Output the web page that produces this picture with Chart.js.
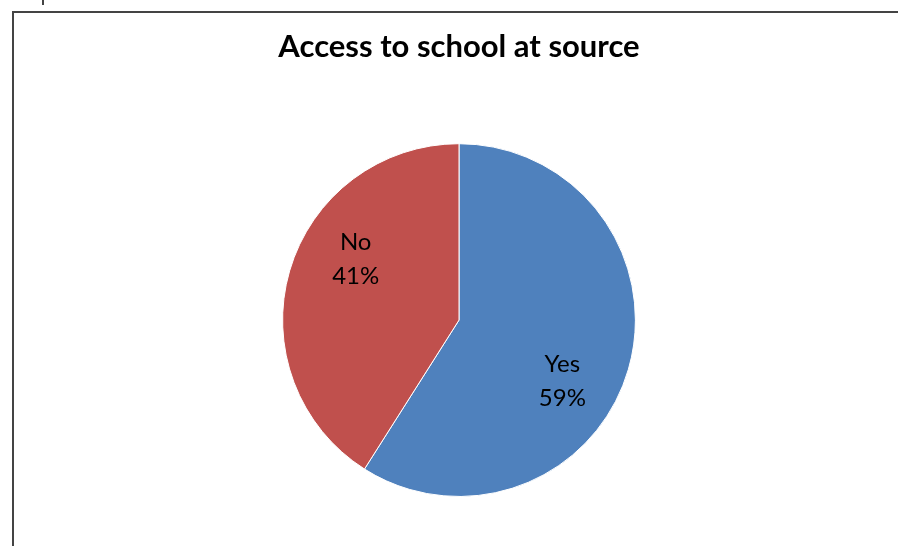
<!DOCTYPE html>
<html>
<head>
<meta charset="utf-8">
<script src="https://cdn.jsdelivr.net/npm/chart.js@4/dist/chart.umd.min.js"></script>
<style>
  html, body { margin: 0; padding: 0; background: #fff; }
  #wrap { position: relative; width: 898px; height: 546px; overflow: hidden; }
  #frame { position: absolute; left: 12px; top: 11px; width: 920px; height: 560px; border: 2px solid #444; box-sizing: border-box; }
  #tick { position: absolute; left: 42px; top: 0; width: 2px; height: 5px; background: #444; }
  #chart_canvas { position: absolute; left: 0; top: 0; }
</style>
</head>
<body>
<div id="wrap">
  <div id="frame"></div>
  <div id="tick"></div>
  <canvas id="chart_canvas" width="898" height="546"></canvas>
</div>
<script>
const pie_labels = ["Yes", "No"];
const pie_values = [59, 41];
const pie_colors = ["#4F81BD", "#C0504D"];

const ctx = document.getElementById("chart_canvas");

// labels inside slices, "Name" over "NN%"
const sliceLabels = {
  id: "sliceLabels",
  afterDatasetsDraw(chart) {
    const c = chart.ctx;
    const meta = chart.getDatasetMeta(0);
    const total = pie_values.reduce((a, b) => a + b, 0);
    c.save();
    c.font = "24px Lato";
    c.fillStyle = "#000";
    c.textAlign = "center";
    c.textBaseline = "middle";
    meta.data.forEach((arc, i) => {
      const mid = (arc.startAngle + arc.endAngle) / 2 + 0.25;
      const r = arc.outerRadius * 0.68;
      const x = arc.x + Math.cos(mid) * r;
      const y = arc.y + Math.sin(mid) * r;
      const pct = Math.round((pie_values[i] / total) * 100) + "%";
      c.fillText(pie_labels[i], x, y - 17);
      c.fillText(pct, x, y + 17);
    });
    c.restore();
  },
};

const chart = new Chart(ctx, {
  type: "pie",
  data: {
    labels: pie_labels,
    datasets: [
      {
        data: pie_values,
        backgroundColor: pie_colors,
        borderColor: "#fff",
        borderWidth: 1,
      },
    ],
  },
  options: {
    responsive: false,
    animation: false,
    layout: {
      padding: { left: 20, right: 0, top: 0, bottom: 49 },
    },
    plugins: {
      legend: { display: false },
      tooltip: { enabled: false },
      title: {
        display: true,
        text: "Access to school at source",
        color: "#000",
        font: { family: "Lato", size: 31, weight: "bold" },
        padding: { top: 28, bottom: 78 },
      },
    },
  },
  plugins: [sliceLabels],
});
</script>
</body>
</html>
